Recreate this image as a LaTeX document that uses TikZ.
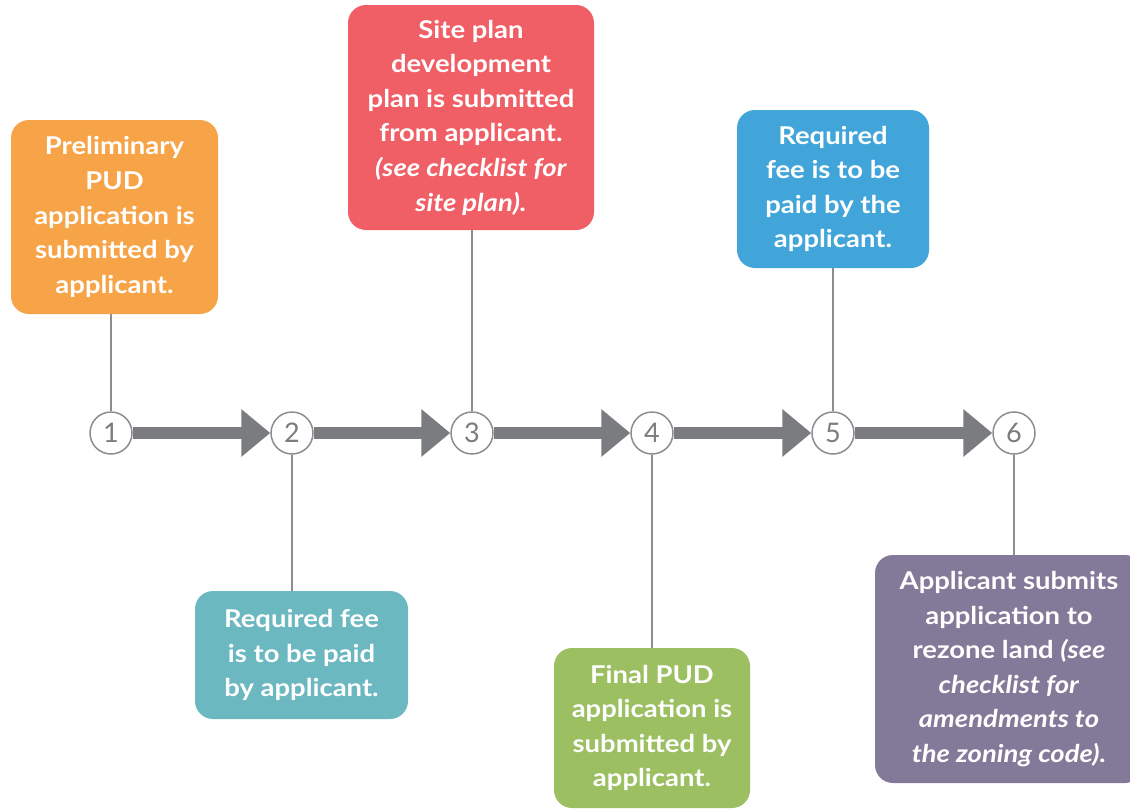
\documentclass[tikz,border=0pt]{standalone}
\usepackage{fontspec}
\setmainfont{Lato}[FakeStretch=1.12]
\newfontfamily\numfont{Lato}
\usetikzlibrary{arrows.meta}
\definecolor{cOrange}{HTML}{F7A448}
\definecolor{cRed}{HTML}{F05F66}
\definecolor{cBlue}{HTML}{41A5DA}
\definecolor{cTeal}{HTML}{6CB8C1}
\definecolor{cGreen}{HTML}{9CBF62}
\definecolor{cPurple}{HTML}{837999}
\definecolor{cArrow}{HTML}{7B7C7F}
\definecolor{cLine}{HTML}{8C8D90}
\tikzset{
  stepbox/.style={rounded corners=18pt, inner sep=0pt, align=center, text=white,
    font=\fontsize{24.5}{34.6}\selectfont\bfseries},
  numcirc/.style={circle, draw=cLine, line width=1.5pt, fill=white, minimum size=42pt,
    inner sep=0pt, text=cArrow, font=\numfont\fontsize{27}{27}\selectfont},
  flow/.style={draw=cArrow, line width=12pt, -{Triangle[width=46pt,length=29pt]}},
  link/.style={draw=cLine, line width=1.5pt},
}
\begin{document}
\begin{tikzpicture}[x=1pt,y=-1pt]
\useasboundingbox (0,0) rectangle (1130,809);
\clip (0,0) rectangle (1130,809);
% circles
\node[numcirc] (c1) at (111,433) {1};
\node[numcirc] (c2) at (292,433) {2};
\node[numcirc] (c3) at (472,433) {3};
\node[numcirc] (c4) at (652,433) {4};
\node[numcirc] (c5) at (833,433) {5};
\node[numcirc] (c6) at (1014,433) {6};
% boxes
\node[stepbox, fill=cOrange, minimum width=207pt, minimum height=194pt] (b1) at (114.5,217) {Preliminary\\PUD\\application is\\submitted by\\applicant.};
\node[stepbox, fill=cRed, minimum width=246pt, minimum height=225pt] (b3) at (471,117.5) {Site plan\\development\\plan is submitted\\from applicant.\\\textit{(see checklist for}\\\textit{site plan).}};
\node[stepbox, fill=cBlue, minimum width=192pt, minimum height=158pt] (b5) at (833,189) {Required\\fee is to be\\paid by the\\applicant.};
\node[stepbox, fill=cTeal, minimum width=213pt, minimum height=128pt] (b2) at (301.5,655) {Required fee\\is to be paid\\by applicant.};
\node[stepbox, fill=cGreen, minimum width=196pt, minimum height=160pt] (b4) at (652,728) {Final PUD\\application is\\submitted by\\applicant.};
\node[stepbox, fill=cPurple, minimum width=268pt, minimum height=228pt] (b6) at (1009,669) {Applicant submits\\application to\\rezone land \textit{(see}\\\textit{checklist for}\\\textit{amendments to}\\\textit{the zoning code).}};
% links
\draw[link] (c1.north) -- (c1.north |- b1.south);
\draw[link] (c3.north) -- (c3.north |- b3.south);
\draw[link] (c5.north) -- (c5.north |- b5.south);
\draw[link] (c2.south) -- (c2.south |- b2.north);
\draw[link] (c4.south) -- (c4.south |- b4.north);
\draw[link] (c6.south) -- (c6.south |- b6.north);
% flow arrows
\draw[flow] (c1.east) -- (c2.west);
\draw[flow] (c2.east) -- (c3.west);
\draw[flow] (c3.east) -- (c4.west);
\draw[flow] (c4.east) -- (c5.west);
\draw[flow] (c5.east) -- (c6.west);
\end{tikzpicture}
\end{document}
